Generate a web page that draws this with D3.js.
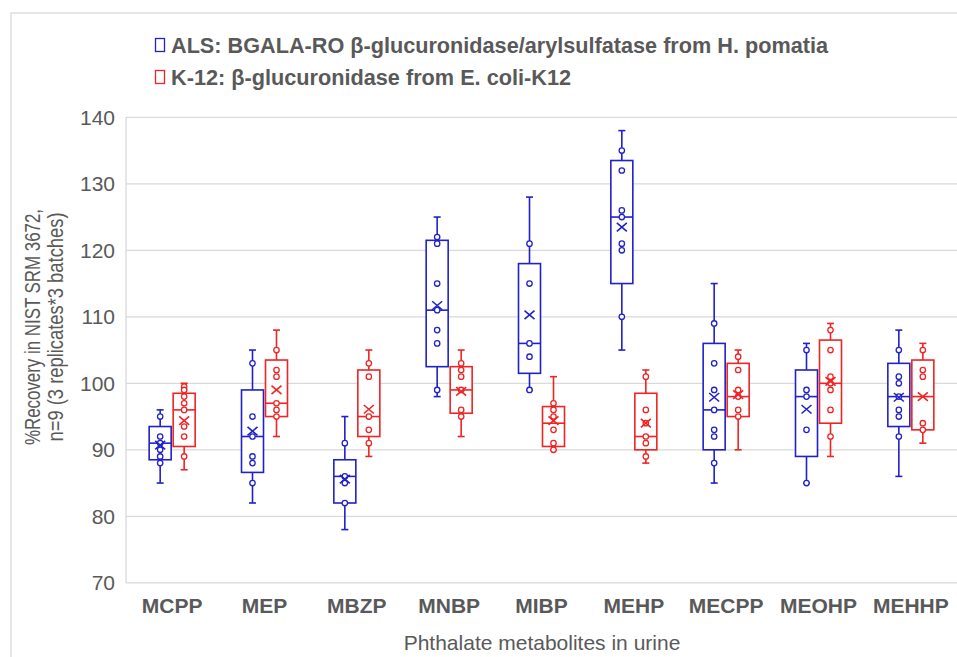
<!DOCTYPE html>
<html>
<head>
<meta charset="utf-8">
<script src="https://cdn.jsdelivr.net/npm/d3@7"></script>
<style>
  body { margin: 0; background: #fff; }
  svg { display: block; font-family: "Liberation Sans", Arial, sans-serif; }
</style>
</head>
<body>
<div id="chart"></div>
<script>
const categories = ["MCPP", "MEP", "MBZP", "MNBP", "MIBP", "MEHP", "MECPP", "MEOHP", "MEHHP"];
const seriesNames = ["ALS: BGALA-RO \u03b2-glucuronidase/arylsulfatase from H. pomatia",
                     "K-12: \u03b2-glucuronidase from E. coli-K12"];
const yTicks = [70, 80, 90, 100, 110, 120, 130, 140];

// ALS (blue)
const alsMin    = [85, 82, 78, 98, 99, 105, 85, 85, 86];
const alsQ1     = [88.5, 86.6, 82, 102.5, 101.5, 115, 90, 89, 93.5];
const alsMedian = [91, 92, 86, 111, 106, 125, 96, 98, 98];
const alsQ3     = [93.5, 99, 88.5, 121.5, 118, 133.5, 106, 102, 103];
const alsMax    = [96, 105, 95, 125, 128, 138, 115, 106, 108];
const alsMean   = [90.7, 92.8, 85.6, 111.7, 110.3, 123.5, 97.9, 96.1, 97.9];
const alsPoints = [
  [95, 92, 91, 90, 89, 88],
  [103, 95, 92, 89, 88, 85],
  [91, 86, 85, 82],
  [122, 121, 115, 111, 108, 106, 99],
  [121, 115, 106, 104, 99],
  [135, 132, 126, 125, 121, 120, 110],
  [109, 103, 99, 96, 93, 92, 88],
  [105, 99, 98, 93, 85],
  [105, 101, 100, 98, 96, 95, 92]
];

// K-12 (red)
const k12Min    = [87, 92, 89, 92, 90, 88, 90, 89, 91];
const k12Q1     = [90.5, 95, 92, 95.5, 90.5, 90, 95, 94, 93];
const k12Median = [96, 97, 95, 99, 94, 92, 98, 100, 98];
const k12Q3     = [98.5, 103.5, 102, 102.5, 96.5, 98.5, 103, 106.5, 103.5];
const k12Max    = [100, 108, 105, 105, 101, 102, 105, 109, 106];
const k12Mean   = [94.4, 99, 96.1, 98.8, 94.4, 94, 98.3, 100.3, 98];
const k12Points = [
  [99.5, 99, 98, 97, 96, 93.5, 92, 89],
  [105, 102, 101, 97, 96, 95],
  [103, 101, 95, 93, 91],
  [103, 102, 101, 99, 96, 95],
  [97, 96, 95, 93, 91, 90],
  [101, 96, 94, 92, 91, 89],
  [104, 102, 99, 98, 96, 95],
  [108, 105, 101, 100, 99, 96, 92],
  [105, 102, 101, 94, 93]
];

const colors = ["#2121c9", "#ef2424"];

const w = 957, h = 657;
const plotLeft = 126, plotRight = 957, plotTop = 117.3, plotBottom = 582.8;

const svg = d3.select("#chart").append("svg")
  .attr("width", w)
  .attr("height", h);

// outer border
svg.append("rect")
  .attr("x", 11).attr("y", 13)
  .attr("width", w).attr("height", h)
  .attr("fill", "none")
  .attr("stroke", "#d9d9d9")
  .attr("stroke-width", 1.3);

const x = d3.scaleBand().domain(categories).range([plotLeft, plotRight]).paddingInner(0).paddingOuter(0);
const y = d3.scaleLinear().domain([70, 140]).range([plotBottom, plotTop]);

// gridlines
svg.append("g")
  .selectAll("line")
  .data(yTicks)
  .enter()
  .append("line")
  .attr("x1", plotLeft).attr("x2", plotRight)
  .attr("y1", d => y(d)).attr("y2", d => y(d))
  .attr("stroke", "#d9d9d9")
  .attr("stroke-width", 1.3);

svg.append("line")
  .attr("x1", plotLeft).attr("x2", plotLeft)
  .attr("y1", plotTop).attr("y2", plotBottom)
  .attr("stroke", "#d9d9d9")
  .attr("stroke-width", 1.3);

// y axis labels
const yAxis = d3.axisLeft(y).tickValues(yTicks).tickSize(0).tickPadding(11);
const yG = svg.append("g")
  .attr("transform", `translate(${plotLeft}, 0)`)
  .call(yAxis);
yG.select(".domain").remove();
yG.selectAll("text")
  .attr("font-size", 21)
  .attr("fill", "#595959")
  .attr("font-family", "'Liberation Sans', Arial, sans-serif");

// x axis labels
const xAxis = d3.axisBottom(x).tickSize(0).tickPadding(0);
const xG = svg.append("g")
  .attr("transform", `translate(0, ${plotBottom})`)
  .call(xAxis);
xG.select(".domain").remove();
xG.selectAll("text")
  .attr("y", 30)
  .attr("dy", 0)
  .attr("font-size", 21)
  .attr("font-weight", "bold")
  .attr("fill", "#595959")
  .attr("font-family", "'Liberation Sans', Arial, sans-serif");

// axis titles
svg.append("text")
  .attr("x", 542).attr("y", 650)
  .attr("text-anchor", "middle")
  .attr("font-size", 21)
  .attr("fill", "#595959")
  .text("Phthalate metabolites in urine");

const yTitle = svg.append("g")
  .attr("transform", "translate(0, 327) rotate(-90)");
yTitle.append("text")
  .attr("x", 0).attr("y", 40)
  .attr("text-anchor", "middle")
  .attr("font-size", 21.5)
  .attr("fill", "#595959")
  .attr("textLength", 236)
  .attr("lengthAdjust", "spacingAndGlyphs")
  .text("%Recovery in NIST SRM 3672,");
yTitle.append("text")
  .attr("x", 0).attr("y", 63)
  .attr("text-anchor", "middle")
  .attr("font-size", 21.5)
  .attr("fill", "#595959")
  .attr("textLength", 229)
  .attr("lengthAdjust", "spacingAndGlyphs")
  .text("n=9 (3 replicates*3 batches)");

// box plots
const boxW = 22;
const series = [
  { min: alsMin, q1: alsQ1, med: alsMedian, q3: alsQ3, max: alsMax, mean: alsMean, pts: alsPoints, off: -12 },
  { min: k12Min, q1: k12Q1, med: k12Median, q3: k12Q3, max: k12Max, mean: k12Mean, pts: k12Points, off: 12 }
];

series.forEach((s, si) => {
  const col = colors[si];
  const g = svg.append("g")
    .attr("stroke", col)
    .attr("fill", "none")
    .attr("stroke-width", 1.6);

  categories.forEach((c, i) => {
    const cx = x(c) + x.bandwidth() / 2 + s.off;

    // whiskers with caps
    g.append("line")
      .attr("x1", cx).attr("x2", cx)
      .attr("y1", y(s.max[i])).attr("y2", y(s.q3[i]));
    g.append("line")
      .attr("x1", cx).attr("x2", cx)
      .attr("y1", y(s.q1[i])).attr("y2", y(s.min[i]));
    [s.max[i], s.min[i]].forEach(v => {
      g.append("line")
        .attr("x1", cx - 3.5).attr("x2", cx + 3.5)
        .attr("y1", y(v)).attr("y2", y(v));
    });

    // box
    g.append("rect")
      .attr("x", cx - boxW / 2)
      .attr("y", y(s.q3[i]))
      .attr("width", boxW)
      .attr("height", y(s.q1[i]) - y(s.q3[i]))
      .attr("fill", "#fff");

    // median
    g.append("line")
      .attr("x1", cx - boxW / 2).attr("x2", cx + boxW / 2)
      .attr("y1", y(s.med[i])).attr("y2", y(s.med[i]));

    // points
    s.pts[i].forEach(v => {
      g.append("circle")
        .attr("cx", cx).attr("cy", y(v))
        .attr("r", 2.7)
        .attr("fill", "#fff")
        .attr("stroke-width", 1.3);
    });

    // mean X
    const my = y(s.mean[i]);
    const m = 5;
    g.append("path")
      .attr("d", `M${cx - m},${my - m * 0.85}L${cx + m},${my + m * 0.85}M${cx - m},${my + m * 0.85}L${cx + m},${my - m * 0.85}`)
      .attr("stroke-width", 1.6);
  });
});

// legend
const legend = svg.append("g").attr("id", "legend");
seriesNames.forEach((name, i) => {
  const ly = 45 + i * 32;
  legend.append("rect")
    .attr("x", 155.5).attr("y", ly - 6.5)
    .attr("width", 9).attr("height", 13)
    .attr("fill", "#fff")
    .attr("stroke", colors[i])
    .attr("stroke-width", 1.3);
  legend.append("text")
    .attr("x", 171).attr("y", ly + 7.5)
    .attr("font-size", 21.5)
    .attr("font-weight", "bold")
    .attr("fill", "#595959")
    .attr("textLength", i === 0 ? 657 : 400)
    .attr("lengthAdjust", "spacingAndGlyphs")
    .text(name);
});
</script>
</body>
</html>
